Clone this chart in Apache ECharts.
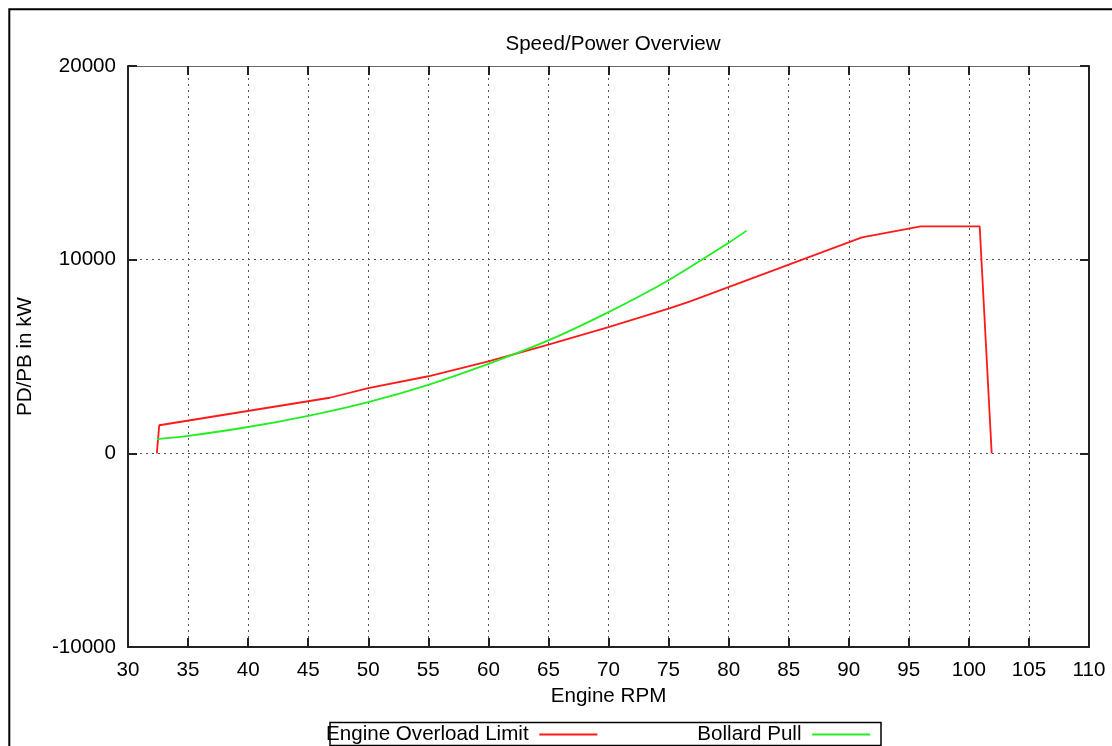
<!DOCTYPE html>
<html>
<head>
<meta charset="utf-8">
<script src="https://cdn.jsdelivr.net/npm/echarts@6/dist/echarts.min.js"></script>
<style>
html,body{margin:0;padding:0;background:#fff;}
#chart{width:1112px;height:746px;}
</style>
</head>
<body>
<div id="chart"></div>
<script>
// Data
const overloadRpm   = [32.4, 32.6, 46.8, 50, 55, 60, 65, 70, 75, 76.8, 91.1, 96.0, 100.9, 101.9];
const overloadPower = [0, 1450, 2870, 3370, 3980, 4750, 5610, 6520, 7470, 7850, 11150, 11720, 11720, 0];
const bollardRpm    = [32.4, 35, 40, 45, 50, 55, 60, 65, 70, 75, 80, 81.5];
const bollardPower  = [730, 900, 1360, 1940, 2650, 3540, 4620, 5830, 7290, 8940, 10870, 11500];
const xTicks = {min: 30, max: 110, interval: 5};
const yTicks = {min: -10000, max: 20000, interval: 10000};
const seriesNames = ['Engine Overload Limit', 'Bollard Pull'];

const zip = (a, b) => a.map((v, i) => [v, b[i]]);
const FONT = 'Liberation Sans';
const FS = 20.6;
const chart = echarts.init(document.getElementById('chart'), null, {renderer: 'canvas'});
const gridLine = {show: true, lineStyle: {color: '#555', width: 1, type: [2, 4]}};
chart.setOption({
  animation: false,
  backgroundColor: '#fff',
  textStyle: {fontFamily: FONT},
  title: {
    text: 'Speed/Power Overview',
    left: 608, top: 29, textAlign: 'center',
    textStyle: {fontFamily: FONT, fontSize: FS, fontWeight: 'normal', color: '#000'}
  },
  grid: {left: 128, top: 66, right: 23, bottom: 99, containLabel: false},
  legend: {
    data: seriesNames,
    left: 326, top: 724,
    align: 'right',
    icon: 'rect',
    itemWidth: 58, itemHeight: 2,
    itemGap: 100,
    padding: 0,
    formatter: n => n + ' ',
    textStyle: {fontFamily: FONT, fontSize: FS, color: '#000'}
  },
  graphic: [
    {type: 'rect', silent: true, z: 100, shape: {x: 9.3, y: 9.3, width: 1300, height: 1000},
     style: {fill: null, stroke: '#000', lineWidth: 2}},
    {type: 'rect', silent: true, z: 100, shape: {x: 330, y: 722.5, width: 551, height: 23},
     style: {fill: null, stroke: '#000', lineWidth: 1.5}}
  ],
  xAxis: [{
    type: 'value', min: xTicks.min, max: xTicks.max, interval: xTicks.interval,
    name: 'Engine RPM', nameLocation: 'middle', nameGap: 34,
    nameTextStyle: {fontFamily: FONT, fontSize: FS, color: '#000'},
    axisLine: {show: true, onZero: false, lineStyle: {color: '#222', width: 2}},
    axisTick: {show: true, inside: true, length: 9, lineStyle: {color: '#222', width: 2}},
    axisLabel: {fontFamily: FONT, fontSize: FS, color: '#000', margin: 13, formatter: v => String(v)},
    splitLine: gridLine
  }, {
    type: 'value', position: 'top', min: xTicks.min, max: xTicks.max, interval: xTicks.interval,
    axisLine: {show: true, onZero: false, lineStyle: {color: '#666', width: 1}},
    axisTick: {show: true, inside: true, length: 9, lineStyle: {color: '#222', width: 2}},
    axisLabel: {show: false}, splitLine: {show: false}
  }],
  yAxis: [{
    type: 'value', min: yTicks.min, max: yTicks.max, interval: yTicks.interval,
    name: 'PD/PB in kW', nameLocation: 'middle', nameGap: 92, nameRotate: 90,
    nameTextStyle: {fontFamily: FONT, fontSize: FS, color: '#000'},
    axisLine: {show: true, onZero: false, lineStyle: {color: '#222', width: 2}},
    axisTick: {show: true, inside: true, length: 9, lineStyle: {color: '#222', width: 2}},
    axisLabel: {fontFamily: FONT, fontSize: FS, color: '#000', margin: 12, formatter: v => String(v)},
    splitLine: gridLine
  }, {
    type: 'value', position: 'right', min: yTicks.min, max: yTicks.max, interval: yTicks.interval,
    axisLine: {show: true, onZero: false, lineStyle: {color: '#222', width: 2}},
    axisTick: {show: true, inside: true, length: 9, lineStyle: {color: '#222', width: 2}},
    axisLabel: {show: false}, splitLine: {show: false}
  }],
  series: [{
    name: seriesNames[0], type: 'line', showSymbol: false, symbol: 'none',
    data: zip(overloadRpm, overloadPower),
    itemStyle: {color: '#ff1a1a'},
    lineStyle: {color: '#ff1a1a', width: 1.8}
  }, {
    name: seriesNames[1], type: 'line', showSymbol: false, symbol: 'none', smooth: 0.3,
    data: zip(bollardRpm, bollardPower),
    itemStyle: {color: '#22ee22'},
    lineStyle: {color: '#22ee22', width: 1.8}
  }]
});
</script>
</body>
</html>
